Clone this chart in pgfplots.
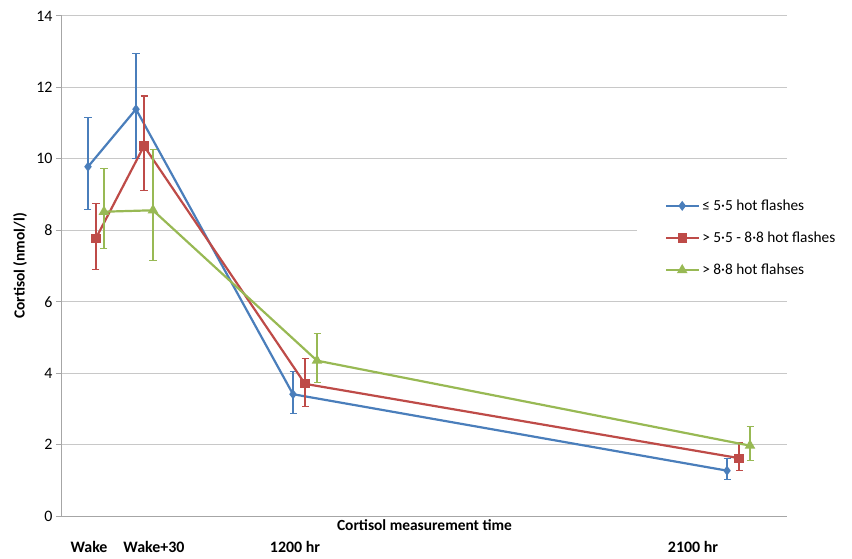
\documentclass[border=0pt]{standalone}
\usepackage{fontspec}
\setmainfont{Carlito}
\usepackage{pgfplots}
\pgfplotsset{compat=1.18}
\definecolor{sblue}{HTML}{4A7EBB}
\definecolor{sred}{HTML}{BE4B48}
\definecolor{sgreen}{HTML}{98B954}
\definecolor{axisgray}{HTML}{A6A6A6}
\definecolor{gridgray}{HTML}{C8C8C8}

\begin{document}
\begin{tikzpicture}
\begin{axis}[
  scale only axis,
  width=725bp, height=500bp,
  xmin=0, xmax=725, ymin=0, ymax=14,
  ytick={0,2,...,14},
  xtick={27,92,233,631},
  xticklabels={Wake,Wake+30,1200 hr,2100 hr},
  /pgf/number format/assume math mode=true,
  tick label style={font=\fontsize{16}{18}\selectfont},
  xticklabel style={font=\bfseries\fontsize{16}{18}\selectfont, anchor=base, yshift=-30bp},
  x tick style={draw=none},
  axis lines*=left,
  axis line style={color=axisgray, line width=1bp},
  ymajorgrids,
  grid style={color=gridgray, line width=1bp},
  tick align=outside,
  major tick length=6bp,
  y tick style={color=axisgray, line width=1bp},
  xlabel={Cortisol measurement time},
  xlabel style={font=\bfseries\fontsize{15.5}{18}\selectfont, at={(axis description cs:0.5,0)}, anchor=base, yshift=-14bp},
  ylabel={Cortisol (nmol/l)},
  ylabel style={font=\bfseries\fontsize{15.5}{18}\selectfont, at={(axis description cs:-0.058,0.5)}, anchor=center},
  legend style={at={(0.793,0.556)}, anchor=west, draw=none, fill=white,
    font=\fontsize{15.4}{18}\selectfont, row sep=16bp, inner xsep=28bp, inner ysep=6bp},
  legend cell align=left,
  legend image code/.code={\draw[mark repeat=2,mark phase=2] plot coordinates {(0bp,0bp) (16bp,0bp) (33bp,0bp)};},
  error bars/y dir=both,
  error bars/y explicit,
]
\addplot[color=sblue, line width=2.2bp, mark=diamond*, mark size=3.2bp, mark options={solid},
  error bars/error bar style={line width=1.1bp, draw=sblue},
  error bars/error mark options={rotate=90, mark size=3.5bp, line width=1.1bp, draw=sblue}]
  coordinates {
  (26,9.78) += (0,1.37) -= (0,1.21)
  (74,11.39) += (0,1.57) -= (0,1.37)
  (231,3.41) += (0,0.63) -= (0,0.55)
  (665,1.27) += (0,0.34) -= (0,0.26)
};
\addlegendentry{≤ 5·5 hot flashes}
\addplot[color=sred, line width=2.2bp, mark=square*, mark size=3.5bp, mark options={solid},
  error bars/error bar style={line width=1.1bp, draw=sred},
  error bars/error mark options={rotate=90, mark size=3.5bp, line width=1.1bp, draw=sred}]
  coordinates {
  (34,7.78) += (0,0.96) -= (0,0.87)
  (82,10.36) += (0,1.40) -= (0,1.25)
  (243,3.70) += (0,0.71) -= (0,0.64)
  (677,1.62) += (0,0.43) -= (0,0.35)
};
\addlegendentry{> 5·5 - 8·8 hot flashes}
\addplot[color=sgreen, line width=2.2bp, mark=triangle*, mark size=4bp, mark options={solid},
  error bars/error bar style={line width=1.1bp, draw=sgreen},
  error bars/error mark options={rotate=90, mark size=3.5bp, line width=1.1bp, draw=sgreen}]
  coordinates {
  (42,8.52) += (0,1.20) -= (0,1.04)
  (91,8.56) += (0,1.71) -= (0,1.41)
  (255,4.35) += (0,0.75) -= (0,0.62)
  (688,1.97) += (0,0.53) -= (0,0.41)
};
\addlegendentry{> 8·8 hot flahses}
\end{axis}
\pgfresetboundingbox
\path (current axis.south west) ++(-62bp,-43bp) rectangle ++(852bp,559bp);
\end{tikzpicture}
\end{document}
